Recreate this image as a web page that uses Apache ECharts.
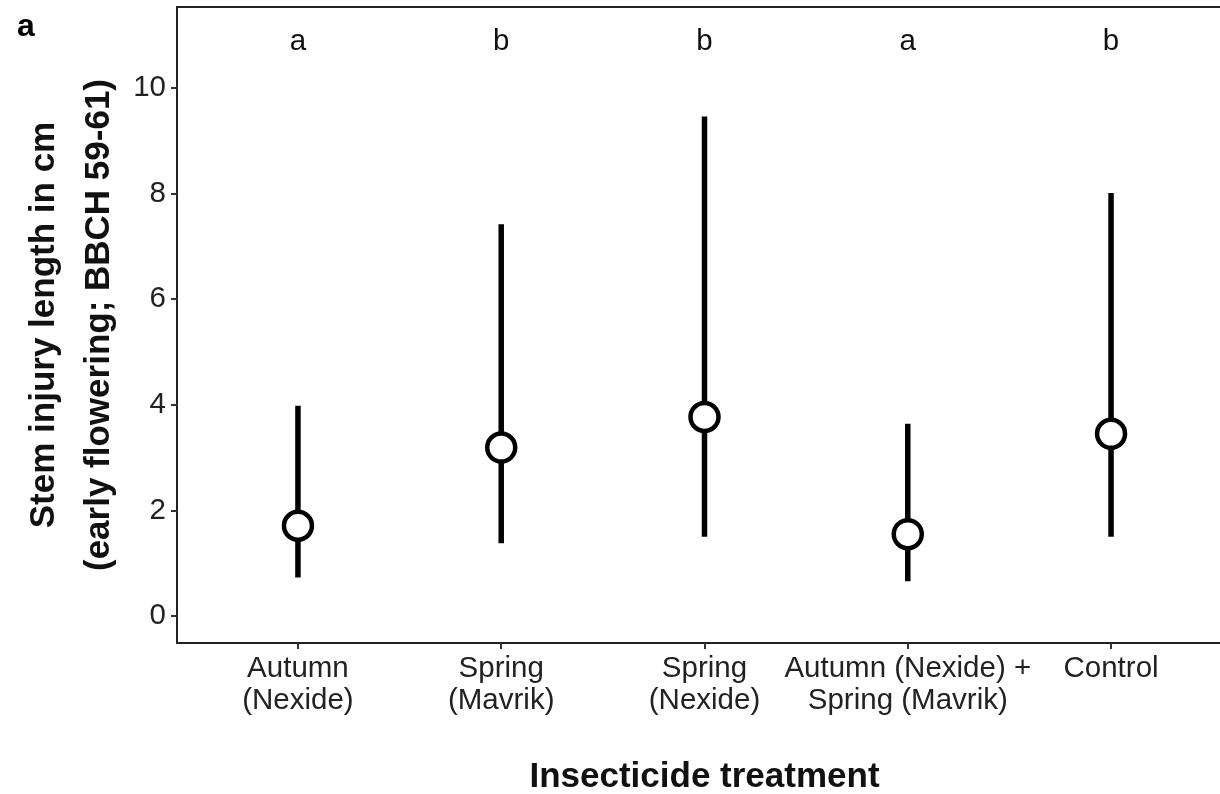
<!DOCTYPE html>
<html>
<head>
<meta charset="utf-8">
<script src="https://cdn.jsdelivr.net/npm/echarts@6/dist/echarts.min.js"></script>
<style>
html,body{margin:0;padding:0;background:#fff;}
#c{width:1220px;height:794px;}
</style>
</head>
<body>
<div id="c"></div>
<script>
const categories = ['Autumn\n(Nexide)', 'Spring\n(Mavrik)', 'Spring\n(Nexide)', 'Autumn (Nexide) +\nSpring (Mavrik)', 'Control'];
const means = [1.71, 3.19, 3.77, 1.55, 3.45];
const lower = [0.73, 1.38, 1.50, 0.66, 1.50];
const upper = [3.98, 7.42, 9.46, 3.64, 8.01];
const letters = ['a', 'b', 'b', 'a', 'b'];
const letterY = 10.87;
const yTicks = [0, 2, 4, 6, 8, 10];
const xTicks = categories.map((c, i) => i);

const FONT = 'Liberation Sans, Arial, Helvetica, sans-serif';
const chart = echarts.init(document.getElementById('c'), null, {renderer: 'canvas'});

const option = {
  backgroundColor: '#fff',
  animation: false,
  grid: {left: 177, right: 0, top: 7, bottom: 151, containLabel: false, outerBoundsMode: 'none'},
  graphic: [{
    type: 'text', left: 17, top: 11,
    style: {text: 'a', font: 'bold 32px ' + FONT, fill: '#000'}
  }],
  xAxis: [{
    type: 'value', min: -0.595, max: 4.536,
    splitLine: {show: false},
    axisLine: {show: true, onZero: false, lineStyle: {color: '#222', width: 2}},
    axisTick: {show: true, customValues: xTicks, length: 6, lineStyle: {color: '#333', width: 2}},
    axisLabel: {
      customValues: xTicks, margin: 10, color: '#222', fontSize: 29.5, fontFamily: FONT, lineHeight: 32,
      formatter: v => categories[Math.round(v)]
    },
    name: 'Insecticide treatment', nameLocation: 'middle', nameGap: 117, nameMoveOverlap: false,
    nameTextStyle: {fontSize: 35, fontWeight: 'bold', fontFamily: FONT, color: '#111', padding: [0, 0, 0, 12]}
  }, {
    type: 'value', min: -0.595, max: 4.536, position: 'top',
    splitLine: {show: false},
    axisLine: {show: true, onZero: false, lineStyle: {color: '#222', width: 2}},
    axisTick: {show: false}, axisLabel: {show: false}
  }],
  yAxis: [{
    type: 'value', min: -0.511, max: 11.534,
    splitLine: {show: false},
    axisLine: {show: true, onZero: false, lineStyle: {color: '#222', width: 2}},
    axisTick: {show: true, customValues: yTicks, length: 6, lineStyle: {color: '#333', width: 2}},
    axisLabel: {customValues: yTicks, margin: 11, color: '#222', fontSize: 29.5, fontFamily: FONT},
    name: 'Stem injury length in cm\n(early flowering; BBCH 59-61)',
    nameLocation: 'middle', nameRotate: 90, nameGap: 50, nameMoveOverlap: false,
    nameTextStyle: {fontSize: 35, fontWeight: 'bold', fontFamily: FONT, color: '#111', lineHeight: 55}
  }],
  series: [{
    type: 'custom',
    data: categories.map((c, i) => [i, lower[i], upper[i]]),
    encode: {x: 0, y: [1, 2]},
    renderItem: function (params, api) {
      const p1 = api.coord([api.value(0), api.value(1)]);
      const p2 = api.coord([api.value(0), api.value(2)]);
      return {
        type: 'line',
        shape: {x1: p1[0], y1: p1[1], x2: p2[0], y2: p2[1]},
        style: {stroke: '#000', lineWidth: 5.5}
      };
    },
    z: 2
  }, {
    type: 'scatter',
    data: categories.map((c, i) => [i, means[i]]),
    symbol: 'circle', symbolSize: 28,
    itemStyle: {color: '#fff', borderColor: '#000', borderWidth: 4.5, opacity: 1},
    z: 3
  }, {
    type: 'custom',
    data: categories.map((c, i) => [i, letterY]),
    renderItem: function (params, api) {
      const p = api.coord([api.value(0), api.value(1)]);
      return {
        type: 'text',
        style: {
          text: letters[params.dataIndex], x: p[0], y: p[1],
          align: 'center', verticalAlign: 'middle',
          font: '29.5px ' + FONT, fill: '#111'
        }
      };
    },
    z: 4
  }]
};
chart.setOption(option);
</script>
</body>
</html>
